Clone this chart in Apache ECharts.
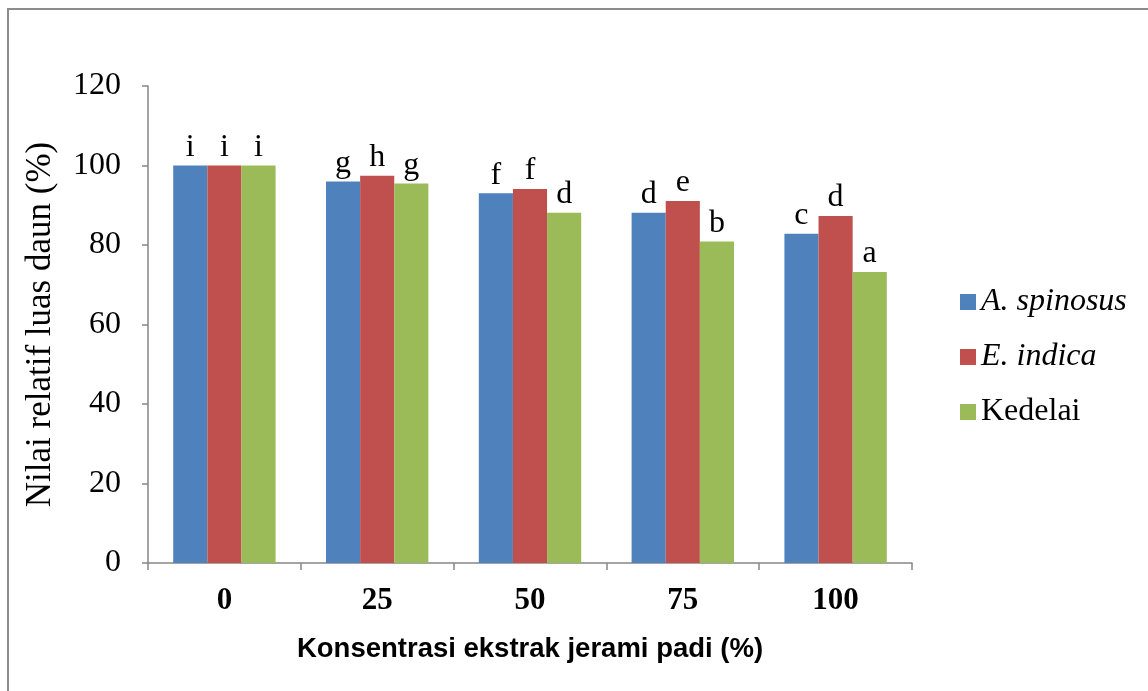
<!DOCTYPE html>
<html><head><meta charset="utf-8">
<script src="https://cdn.jsdelivr.net/npm/echarts@6/dist/echarts.min.js"></script>
<style>html,body{margin:0;padding:0;background:#fff}#c{width:1148px;height:691px}</style>
</head><body><div id="c"></div>
<script>
const categories = ['0', '25', '50', '75', '100'];
const seriesNames = ['A. spinosus', 'E. indica', 'Kedelai'];
const aSpinosus = [100, 96.0, 93.0, 88.1, 82.8];
const eIndica = [100, 97.4, 94.1, 91.1, 87.3];
const kedelai = [100, 95.5, 88.1, 80.9, 73.2];
const lettersA = ['i', 'g', 'f', 'd', 'c'];
const lettersE = ['i', 'h', 'f', 'e', 'd'];
const lettersK = ['i', 'g', 'd', 'b', 'a'];
const yTicks = [0, 20, 40, 60, 80, 100, 120];

const colors = ['#4F81BD', '#C0504D', '#9BBB59'];
const serif = '"Liberation Serif", "Times New Roman", serif';
const axisGray = '#868686';

function mk(name, vals, letters, color) {
  return {
    name: name, type: 'bar', data: vals, barGap: '0%', barCategoryGap: '33%',
    itemStyle: { color: color },
    label: {
      show: true, position: 'top', distance: 2,
      formatter: p => letters[p.dataIndex],
      fontFamily: serif, fontSize: 32, color: '#000'
    }
  };
}

const chart = echarts.init(document.getElementById('c'));
chart.setOption({
  animation: false,
  backgroundColor: '#fff',
  graphic: [{
    type: 'rect', shape: { x: 8, y: 9, width: 1200, height: 800 },
    style: { fill: 'none', stroke: '#8c8c8c', lineWidth: 2 }, silent: true
  }],
  grid: { left: 148, right: 236, top: 86, bottom: 128, containLabel: false },
  legend: {
    orient: 'vertical', left: 955, top: 281,
    itemWidth: 16, itemHeight: 16, itemGap: 23,
    icon: 'rect',
    data: seriesNames,
    formatter: n => n === 'Kedelai' ? '{n|' + n + '}' : '{i|' + n + '}',
    textStyle: {
      fontFamily: serif, fontSize: 32, color: '#000', lineHeight: 32,
      rich: {
        i: { fontFamily: serif, fontSize: 32, fontStyle: 'italic', color: '#000', lineHeight: 32 },
        n: { fontFamily: serif, fontSize: 32, color: '#000', lineHeight: 32 }
      }
    }
  },
  xAxis: {
    type: 'category', data: categories,
    name: 'Konsentrasi ekstrak jerami padi (%)', nameLocation: 'middle', nameGap: 72,
    nameTextStyle: { fontFamily: '"Liberation Sans", sans-serif', fontWeight: 'bold', fontSize: 27.5, color: '#000' },
    axisLine: { lineStyle: { color: axisGray, width: 1.5 } },
    axisTick: { show: true, length: 7, alignWithLabel: false, lineStyle: { color: axisGray, width: 1.5 } },
    axisLabel: { fontFamily: serif, fontWeight: 'bold', fontSize: 31, color: '#000', margin: 22 }
  },
  yAxis: {
    type: 'value', min: yTicks[0], max: yTicks[yTicks.length - 1], interval: 20,
    name: 'Nilai relatif luas daun (%)', nameLocation: 'middle', nameGap: 90, nameRotate: 90,
    nameTextStyle: { fontFamily: serif, fontSize: 35, color: '#000' },
    axisLine: { show: true, lineStyle: { color: axisGray, width: 1.5 } },
    axisTick: { show: true, length: 6, lineStyle: { color: axisGray, width: 1.5 } },
    splitLine: { show: false },
    axisLabel: { fontFamily: serif, fontSize: 32, color: '#000', margin: 27 }
  },
  series: [
    mk(seriesNames[0], aSpinosus, lettersA, colors[0]),
    mk(seriesNames[1], eIndica, lettersE, colors[1]),
    mk(seriesNames[2], kedelai, lettersK, colors[2])
  ]
});
</script></body></html>
